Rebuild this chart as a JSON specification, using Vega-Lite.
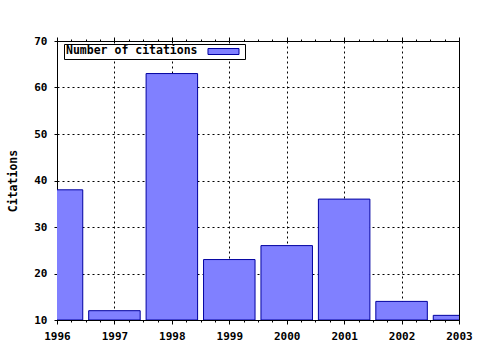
{
  "$schema": "https://vega.github.io/schema/vega-lite/v6.json",
  "width": 402,
  "height": 279,
  "autosize": {"type": "none"},
  "padding": {"left": 57, "top": 41, "right": 21, "bottom": 30},
  "background": "white",
  "data": {"values": [
    {"year": 1996, "citations": 38},
    {"year": 1997, "citations": 12},
    {"year": 1998, "citations": 63},
    {"year": 1999, "citations": 23},
    {"year": 2000, "citations": 26},
    {"year": 2001, "citations": 36},
    {"year": 2002, "citations": 14},
    {"year": 2003, "citations": 11}
  ]},
  "layer": [
    {
      "mark": {"type": "bar", "width": 51.5, "stroke": "#0000a0", "strokeWidth": 1, "clip": true, "opacity": 1},
      "encoding": {
        "x": {
          "field": "year", "type": "quantitative",
          "scale": {"domain": [1996, 2003], "nice": false, "zero": false, "padding": 0},
          "axis": {
            "orient": "bottom",
            "title": null,
            "values": [1996,1996.25,1996.5,1996.75,1997,1997.25,1997.5,1997.75,1998,1998.25,1998.5,1998.75,1999,1999.25,1999.5,1999.75,2000,2000.25,2000.5,2000.75,2001,2001.25,2001.5,2001.75,2002,2002.25,2002.5,2002.75,2003],
            "labelExpr": "datum.value % 1 === 0 ? format(datum.value, 'd') : ''",
            "tickSize": {"condition": {"test": "datum.value % 1 === 0", "value": 4}, "value": 2},
            "grid": true,
            "gridOpacity": {"condition": {"test": "datum.value % 1 === 0 && datum.value > 1996 && datum.value < 2003", "value": 1}, "value": 0},
            "gridDash": [2, 3],
            "gridColor": "#000000",
            "labelPadding": 6,
            "labelOverlap": false,
            "labelFlush": false
          }
        },
        "y": {
          "field": "citations", "type": "quantitative",
          "scale": {"domain": [10, 70], "nice": false, "zero": false},
          "axis": {
            "title": "Citations",
            "values": [10, 20, 30, 40, 50, 60, 70],
            "tickSize": 3,
            "grid": true,
            "gridOpacity": {"condition": {"test": "datum.value > 10 && datum.value < 70", "value": 1}, "value": 0},
            "gridDash": [2, 3],
            "gridColor": "#000000",
            "labelPadding": 7,
            "titlePadding": 15
          }
        },
        "y2": {"datum": 10},
        "color": {
          "datum": "Number of citations",
          "scale": {"range": ["#8080ff"]},
          "legend": {
            "orient": "none",
            "legendX": 7,
            "legendY": 3,
            "title": "Number of citations",
            "titleOrient": "left",
            "titleAnchor": "middle",
            "titlePadding": 20,
            "titleBaseline": "middle",
            "titleFontSize": 11.5,
            "labelExpr": "''",
            "labelOffset": 14,
            "symbolType": "M-5.17,-1H5.17V1H-5.17Z",
            "symbolSize": 36,
            "symbolStrokeColor": "#0000a0",
            "symbolStrokeWidth": 1,
            "symbolOpacity": 1,
            "strokeColor": "#000000",
            "padding": 2,
            "fillColor": "white"
          }
        }
      }
    },
    {
      "mark": {"type": "point", "opacity": 0},
      "encoding": {
        "x": {
          "field": "year", "type": "quantitative",
          "scale": {"domain": [1996, 2003], "nice": false, "zero": false, "padding": 0},
          "axis": {
            "orient": "top",
            "title": null,
            "values": [1996,1996.25,1996.5,1996.75,1997,1997.25,1997.5,1997.75,1998,1998.25,1998.5,1998.75,1999,1999.25,1999.5,1999.75,2000,2000.25,2000.5,2000.75,2001,2001.25,2001.5,2001.75,2002,2002.25,2002.5,2002.75,2003],
            "labels": false,
            "grid": false,
            "tickSize": {"condition": {"test": "datum.value % 1 === 0", "value": 4}, "value": 2}
          }
        },
        "y": {"field": "citations", "type": "quantitative"}
      }
    }
  ],
  "resolve": {"axis": {"x": "independent"}},
  "config": {
    "view": {"stroke": "#000000", "strokeWidth": 1},
    "font": "DejaVu Sans Mono",
    "axis": {
      "domainColor": "#000000",
      "tickColor": "#000000",
      "labelFont": "DejaVu Sans Mono",
      "labelFontWeight": "bold",
      "labelFontSize": 11,
      "labelColor": "#000000",
      "titleFont": "DejaVu Sans Mono",
      "titleFontWeight": "bold",
      "titleFontSize": 11.5,
      "titleColor": "#000000"
    },
    "legend": {
      "titleFont": "DejaVu Sans Mono",
      "titleFontWeight": "bold",
      "titleFontSize": 11.5,
      "titleColor": "#000000",
      "labelFont": "DejaVu Sans Mono",
      "labelFontSize": 11
    }
  }
}
